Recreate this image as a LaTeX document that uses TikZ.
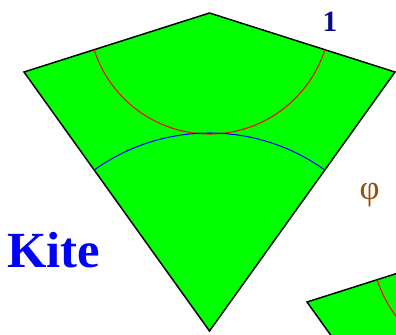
\documentclass[tikz,border=0pt]{standalone}
\usepackage{fontspec}
\setmainfont{Liberation Serif}
\definecolor{kitegreen}{RGB}{0,255,0}
\definecolor{navylabel}{RGB}{10,10,128}
\definecolor{phibrown}{RGB}{150,78,10}
\begin{document}
\begin{tikzpicture}[x=0.75pt,y=-0.75pt,
  kiteshape/.style={fill=kitegreen,draw=black,line width=1.1pt,line join=miter},
  redarc/.style={draw=red,line width=0.8pt},
  bluearc/.style={draw=blue,line width=0.8pt},
  sidelabel/.style={inner sep=0pt,font=\fontsize{22}{24}\selectfont\bfseries}]
\useasboundingbox (0,0) rectangle (396,335);
\clip (0,0) rectangle (396,335);
% main kite
\coordinate (T) at (209.5,13);
\coordinate (L) at (24,72);
\coordinate (R) at (395,72);
\coordinate (B) at (209.5,331);
\draw[kiteshape] (T) -- (R) -- (B) -- (L) -- cycle;
\begin{scope}
  \clip (T) -- (R) -- (B) -- (L) -- cycle;
  \draw[redarc] (T) circle[radius=90.75pt];
  \draw[bluearc] (B) circle[radius=148.5pt];
\end{scope}
% second kite (partial, lower right)
\begin{scope}[shift={(283,230)}]
  \coordinate (T2) at (209.5,13);
  \coordinate (L2) at (24,72);
  \coordinate (R2) at (395,72);
  \coordinate (B2) at (209.5,331);
  \draw[kiteshape] (T2) -- (R2) -- (B2) -- (L2) -- cycle;
  \begin{scope}
    \clip (T2) -- (R2) -- (B2) -- (L2) -- cycle;
    \draw[redarc] (T2) circle[radius=90.75pt];
    \draw[bluearc] (B2) circle[radius=148.5pt];
  \end{scope}
\end{scope}
% labels
\node[sidelabel,text=navylabel,anchor=base] (one) at (330,32) {1};
\node[inner sep=0pt,text=phibrown,anchor=center,font=\fontsize{26}{28}\selectfont] (phi) at (369.5,195.5) {φ};
\node[inner sep=0pt,anchor=base west,text=blue,font=\fontsize{38}{40}\selectfont\bfseries] (kite) at (7,267) {Kite};
\end{tikzpicture}
\end{document}
